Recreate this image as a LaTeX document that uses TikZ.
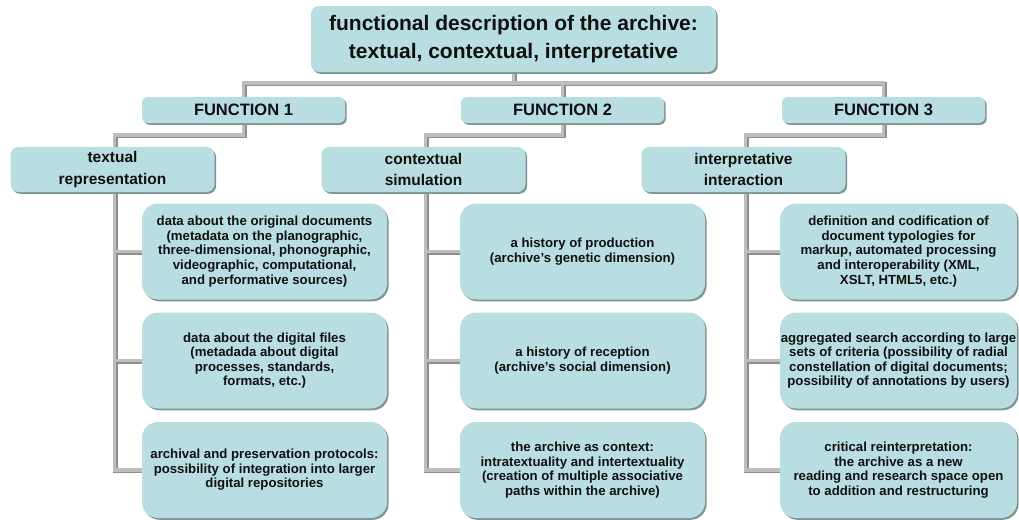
\documentclass[tikz,border=0pt]{standalone}
\usepackage{fontspec}
\setmainfont{Liberation Sans}
\usetikzlibrary{shadows,backgrounds}
\definecolor{boxfill}{HTML}{B9DEE1}
\definecolor{boxshadow}{HTML}{7E9396}
\definecolor{conndark}{HTML}{8E8E8E}
\definecolor{connlight}{HTML}{BDBDBD}
\definecolor{txt}{HTML}{101010}
\newcommand\connpaths[1]{%
  \draw[#1] (f1.north) -- (f1.north |- bus) -- (f3.north |- bus) -- (f3.north);
  \draw[#1] (top.south) -- (top.south |- bus);
  \draw[#1] (f2.north) -- (f2.north |- bus);
  \draw[#1] (f1.south) |- ([xshift=2pt]l1.north |- sub) -- ([xshift=2pt]l1.north);
  \draw[#1] (f2.south) |- ([xshift=2pt]l2.north |- sub) -- ([xshift=2pt]l2.north);
  \draw[#1] (f3.south) |- ([xshift=2pt]l3.north |- sub) -- ([xshift=2pt]l3.north);
  \draw[#1] ([xshift=2pt]l1.south) |- (a3.west);
  \draw[#1] ([xshift=2pt]l1.south |- a1.west) -- (a1.west);
  \draw[#1] ([xshift=2pt]l1.south |- a2.west) -- (a2.west);
  \draw[#1] ([xshift=2pt]l2.south) |- (b3.west);
  \draw[#1] ([xshift=2pt]l2.south |- b1.west) -- (b1.west);
  \draw[#1] ([xshift=2pt]l2.south |- b2.west) -- (b2.west);
  \draw[#1] ([xshift=2pt]l3.south) |- (c3.west);
  \draw[#1] ([xshift=2pt]l3.south |- c1.west) -- (c1.west);
  \draw[#1] ([xshift=2pt]l3.south |- c2.west) -- (c2.west);
}
\begin{document}
\begin{tikzpicture}[x=1pt,y=-1pt,
  box/.style={fill=boxfill, text=txt, align=center, inner sep=0pt,
    drop shadow={shadow xshift=1.6pt, shadow yshift=-1.8pt, fill=boxshadow, opacity=1}},
  topbox/.style={box, rounded corners=8pt, font=\bfseries\fontsize{21}{28}\selectfont,
    minimum width=405pt, minimum height=66pt},
  funbox/.style={box, rounded corners=6pt, font=\bfseries\fontsize{16.5}{18}\selectfont,
    minimum width=203pt, minimum height=26pt},
  lvlbox/.style={box, rounded corners=8pt, font=\bfseries\fontsize{15.5}{21.5}\selectfont,
    minimum width=204pt, minimum height=45pt},
  leafbox/.style={box, rounded corners=16pt, font=\bfseries\fontsize{13.2}{14.6}\selectfont,
    minimum width=#1, minimum height=96pt},
  leafbox/.default=245pt,
  conndark/.style={draw=conndark, line width=4.5pt, transform canvas={shift={(1pt,-1pt)}}},
  connlight/.style={draw=connlight, line width=3.6pt}]
\useasboundingbox (0,0) rectangle (1019,519);
\coordinate (bus) at (0,83);
\coordinate (sub) at (0,135);

\node[topbox] (top) at (513.5,39) {functional description of the archive:\\textual, contextual, interpretative};

\node[funbox] (f1) at (243.5,110) {FUNCTION 1};
\node[funbox] (f2) at (562.5,110) {FUNCTION 2};
\node[funbox] (f3) at (883.5,110) {FUNCTION 3};

\node[lvlbox] (l1) at (112.5,169.5) {textual\\representation};
\node[lvlbox] (l2) at (423.5,169.5) {contextual\\simulation};
\node[lvlbox] (l3) at (743.5,169.5) {interpretative\\interaction};

\node[leafbox] (a1) at (264.5,251.5) {data about the original documents\\(metadata on the planographic,\\three-dimensional, phonographic,\\videographic, computational,\\and performative sources)};
\node[leafbox] (a2) at (264.5,360.5) {data about the digital files\\(metadada about digital\\processes, standards,\\formats, etc.)};
\node[leafbox] (a3) at (264.5,470) {archival and preservation protocols:\\possibility of integration into larger\\digital repositories};

\node[leafbox] (b1) at (582.5,251.5) {a history of production\\(archive's genetic dimension)};
\node[leafbox] (b2) at (582.5,360.5) {a history of reception\\(archive's social dimension)};
\node[leafbox] (b3) at (582.5,470) {the archive as context:\\intratextuality and intertextuality\\(creation of multiple associative\\paths within the archive)};

\node[leafbox=237pt] (c1) at (898.5,251.5) {definition and codification of\\document  typologies for\\markup, automated processing\\and interoperability (XML,\\XSLT, HTML5, etc.)};
\node[leafbox=237pt] (c2) at (898.5,360.5) {aggregated search according to large\\sets of criteria (possibility of radial\\constellation of digital documents;\\possibility of annotations by users)};
\node[leafbox=237pt] (c3) at (898.5,470) {critical reinterpretation:\\the archive as a new\\reading and research space open\\to addition and restructuring};

\begin{scope}[on background layer]
\connpaths{conndark}
\connpaths{connlight}
\end{scope}
\end{tikzpicture}
\end{document}
